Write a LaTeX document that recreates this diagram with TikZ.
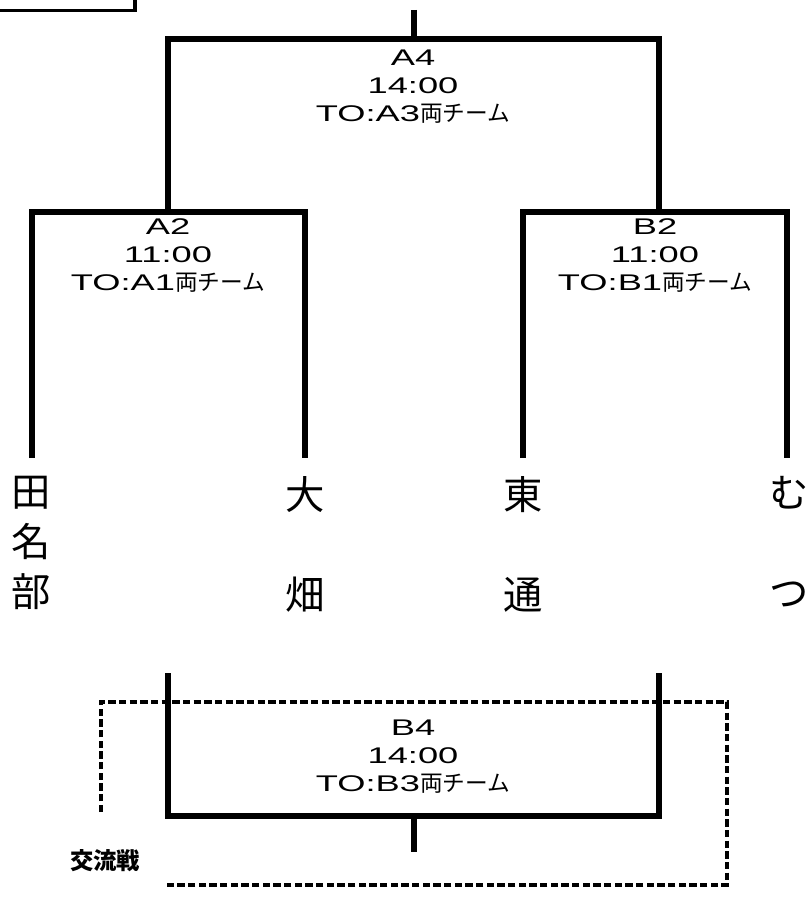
\documentclass[tikz,border=0pt]{standalone}
\usepackage{fontspec}
\setmainfont{Noto Sans CJK JP}
\newfontfamily\latin[FakeStretch=1.6, Scale=1.0]{Liberation Sans}
\usepackage{tikz}
\tikzset{>=latex}
\tikzset{
  bracket/.style={line width=4.7pt},
  frame/.style={line width=2.4pt, dash pattern=on 5.5pt off 2.5pt},
  game/.style={align=center, inner sep=0pt, anchor=north, font=\fontsize{17}{21}\selectfont},
  team/.style={align=center, inner sep=0pt, anchor=north, font=\fontsize{29.5}{37.5}\selectfont}
}
\newcommand{\gamelabel}[3]{{\latin #1}\\{\latin #2}\\{\latin #3}両チーム}

\begin{document}
\begin{tikzpicture}[x=0.75pt, y=-0.75pt]
  \useasboundingbox (0,0) rectangle (810,898);
  % corner of the box cut off at the top left
  \draw[line width=2.6pt] (-5,10.5) -- (135,10.5) -- (135,-5);

  % ends of the bracket lines
  \coordinate (final) at (414,10);
  \coordinate (a4) at (414,39);
  \coordinate (a2) at (168,212);
  \coordinate (b2) at (659,212);
  \coordinate (tanabuT) at (32,458);
  \coordinate (obataT) at (305,458);
  \coordinate (higashiT) at (523,458);
  \coordinate (mutsuT) at (787,458);
  \coordinate (b4l) at (168,673);
  \coordinate (b4r) at (659,673);
  \coordinate (b4) at (414,816);
  \coordinate (b4out) at (414,852);

  % games
  \node[game] (A4) at (413,50) {\gamelabel{A4}{14:00}{TO:A3}};
  \node[game] (A2) at (168,218) {\gamelabel{A2}{11:00}{TO:A1}};
  \node[game] (B2) at (655,218) {\gamelabel{B2}{11:00}{TO:B1}};
  \node[game] (B4) at (413,720) {\gamelabel{B4}{14:00}{TO:B3}};

  % teams
  \node[team] (tanabu) at (31,476) {田\\名\\部};
  \node[team] (obata) at (305,476) {大\\\mbox{}\\畑};
  \node[team] (higashi) at (523,476) {東\\\mbox{}\\通};
  \node[team] (mutsu) at (789,476) {む\\\mbox{}\\つ};

  \draw[bracket] (final) -- (a4);
  \draw[bracket] (a2) |- (a4) -| (b2);
  \draw[bracket] (tanabuT) |- (a2) -| (obataT);
  \draw[bracket] (higashiT) |- (b2) -| (mutsuT);
  \draw[bracket] (b4l) |- (b4) -| (b4r);
  \draw[bracket] (b4) -- (b4out);

  % exchange games
  \draw[frame] (101,812) -- (101,702) -- (727,702) -- (727,885) -- (165,885);
  \node[inner sep=0pt, font=\bfseries\fontsize{17.5}{17.5}\selectfont] (koryu) at (105,861) {交流戦};
\end{tikzpicture}
\end{document}
